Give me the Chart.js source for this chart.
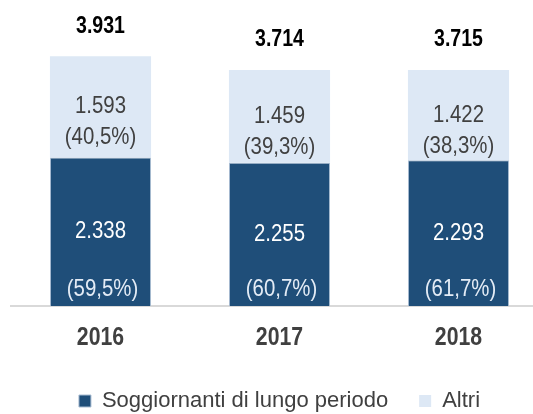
<!DOCTYPE html>
<html>
<head>
<meta charset="utf-8">
<script src="https://cdn.jsdelivr.net/npm/chart.js@4"></script>
<style>
  html, body { margin: 0; padding: 0; background: #fff; overflow: hidden; }
  #wrap { width: 533px; height: 414px; overflow: hidden; position: relative; }
  #wrap canvas { position: absolute; left: 0; top: 0; }
</style>
</head>
<body>
<div id="wrap"><canvas id="chart" width="560" height="422"></canvas></div>
<script>
// data
const years = ['2016', '2017', '2018'];
const lungoPeriodo = [2338, 2255, 2293];
const altri = [1593, 1459, 1422];
const totali = [3931, 3714, 3715];
const pctLungo = ['59,5%', '60,7%', '61,7%'];
const pctAltri = ['40,5%', '39,3%', '38,3%'];

const FONT = '"Liberation Sans", Arial, sans-serif';
const fmt = v => v.toLocaleString('it-IT');

// Arial Narrow look-alike: squeeze the text horizontally
function narrow(ctx, text, x, y) {
  ctx.save();
  ctx.translate(x, y);
  ctx.scale(0.85, 1);
  ctx.fillText(text, 0, 0);
  ctx.restore();
}

// values, shares, totals and year labels
const barLabels = {
  id: 'barLabels',
  afterDraw(chart) {
    const ctx = chart.ctx;
    const dark = chart.getDatasetMeta(0).data;
    const light = chart.getDatasetMeta(1).data;
    const xScale = chart.scales.x;
    ctx.save();
    ctx.textAlign = 'center';
    ctx.textBaseline = 'middle';
    dark.forEach((bar, i) => {
      ctx.fillStyle = '#ffffff';
      ctx.font = '24px ' + FONT;
      narrow(ctx, fmt(lungoPeriodo[i]), bar.x, (bar.y + bar.base) / 2);
      ctx.fillStyle = '#e4ecf6';
      narrow(ctx, '(' + pctLungo[i] + ')', bar.x + 2, bar.base - 17);
    });
    light.forEach((bar, i) => {
      const mid = (bar.y + bar.base) / 2;
      ctx.fillStyle = '#404040';
      ctx.font = '24px ' + FONT;
      narrow(ctx, fmt(altri[i]), bar.x, mid);
      narrow(ctx, '(' + pctAltri[i] + ')', bar.x, mid + 31);
      ctx.fillStyle = '#000000';
      ctx.font = 'bold 23px ' + FONT;
      narrow(ctx, fmt(totali[i]), bar.x, bar.y - 30);
    });
    ctx.fillStyle = '#404040';
    ctx.font = 'bold 25px ' + FONT;
    years.forEach((y, i) => {
      narrow(ctx, y, xScale.getPixelForValue(i), xScale.top + 32);
    });
    ctx.restore();
  }
};

new Chart(document.getElementById('chart'), {
  type: 'bar',
  data: {
    labels: years,
    datasets: [{
      label: 'Soggiornanti di lungo periodo',
      data: lungoPeriodo,
      backgroundColor: '#1f4e79',
      borderColor: '#a9bdd3',
      borderWidth: 1,
      barPercentage: 0.565,
      categoryPercentage: 1
    }, {
      label: 'Altri',
      data: altri,
      backgroundColor: '#dde8f5',
      barPercentage: 0.565,
      categoryPercentage: 1
    }]
  },
  options: {
    responsive: false,
    animation: false,
    layout: { padding: { left: 11, right: 12, top: 1, bottom: 0 } },
    scales: {
      x: {
        stacked: true,
        grid: { display: false, drawTicks: false },
        border: { display: true, color: '#d9d9d9', width: 2 },
        ticks: { color: 'rgba(0,0,0,0)', padding: 2, font: { family: FONT, size: 25, weight: 'bold' } },
        afterFit(scale) { scale.height = 53; }
      },
      y: {
        stacked: true,
        min: 0,
        max: 4800,
        display: false
      }
    },
    plugins: {
      legend: {
        position: 'bottom',
        labels: {
          color: '#404040',
          boxWidth: 12,
          boxHeight: 12,
          padding: 31,
          font: { family: FONT, size: 22 }
        }
      },
      tooltip: { enabled: false }
    }
  },
  plugins: [barLabels]
});
</script>
</body>
</html>
